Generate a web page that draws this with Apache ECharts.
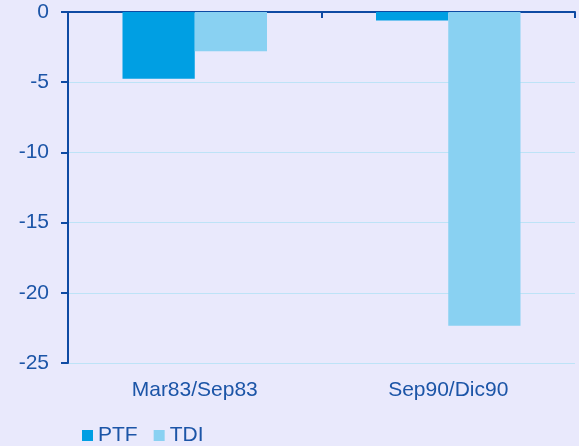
<!DOCTYPE html>
<html>
<head>
<meta charset="utf-8">
<style>
  html, body { margin: 0; padding: 0; background: #E9E9FC; }
  #chart { width: 579px; height: 446px; }
</style>
<script src="https://cdn.jsdelivr.net/npm/echarts@6/dist/echarts.min.js"></script>
</head>
<body>
<div id="chart"></div>
<script>
const categories = ['Mar83/Sep83', 'Sep90/Dic90'];
const ptfValues = [-4.75, -0.6];
const tdiValues = [-2.8, -22.35];

const textColor = '#1C55A7';
const axisColor = '#0E4AA3';
const font = 'Liberation Sans, Arial, sans-serif';

const chart = echarts.init(document.getElementById('chart'));
chart.setOption({
  backgroundColor: '#E9E9FC',
  animation: false,
  grid: { left: 68, right: 4, top: 12, bottom: 83 },
  legend: {
    left: 77, top: 420,
    itemWidth: 11, itemHeight: 11, itemGap: 16,
    icon: 'rect',
    textStyle: { color: textColor, fontSize: 21, fontFamily: font },
    data: ['PTF', 'TDI']
  },
  xAxis: [
    {
      type: 'category', position: 'top', data: categories,
      axisLine: { show: true, lineStyle: { color: axisColor, width: 2 } },
      axisTick: { show: true, inside: true, length: 6, lineStyle: { color: axisColor, width: 2 } },
      axisLabel: { show: false }
    },
    {
      type: 'category', position: 'bottom', data: categories,
      axisLine: { show: false }, axisTick: { show: false },
      axisLabel: { color: textColor, fontSize: 21, fontFamily: font, margin: 17 }
    }
  ],
  yAxis: {
    type: 'value', min: -25, max: 0, interval: 5,
    axisLine: { show: true, lineStyle: { color: axisColor, width: 2 } },
    axisTick: { show: true, length: 7, lineStyle: { color: axisColor, width: 2 } },
    axisLabel: { color: textColor, fontSize: 21, fontFamily: font, margin: 19 },
    splitLine: { lineStyle: { color: '#BDE3F7', width: 1 } }
  },
  series: [
    {
      name: 'PTF', type: 'bar', data: ptfValues, xAxisIndex: 0,
      barGap: '0%', barCategoryGap: '43%',
      itemStyle: { color: '#009FE3' }
    },
    {
      name: 'TDI', type: 'bar', data: tdiValues, xAxisIndex: 0,
      barGap: '0%', barCategoryGap: '43%',
      itemStyle: { color: '#89D1F2' }
    }
  ]
});
</script>
</body>
</html>
